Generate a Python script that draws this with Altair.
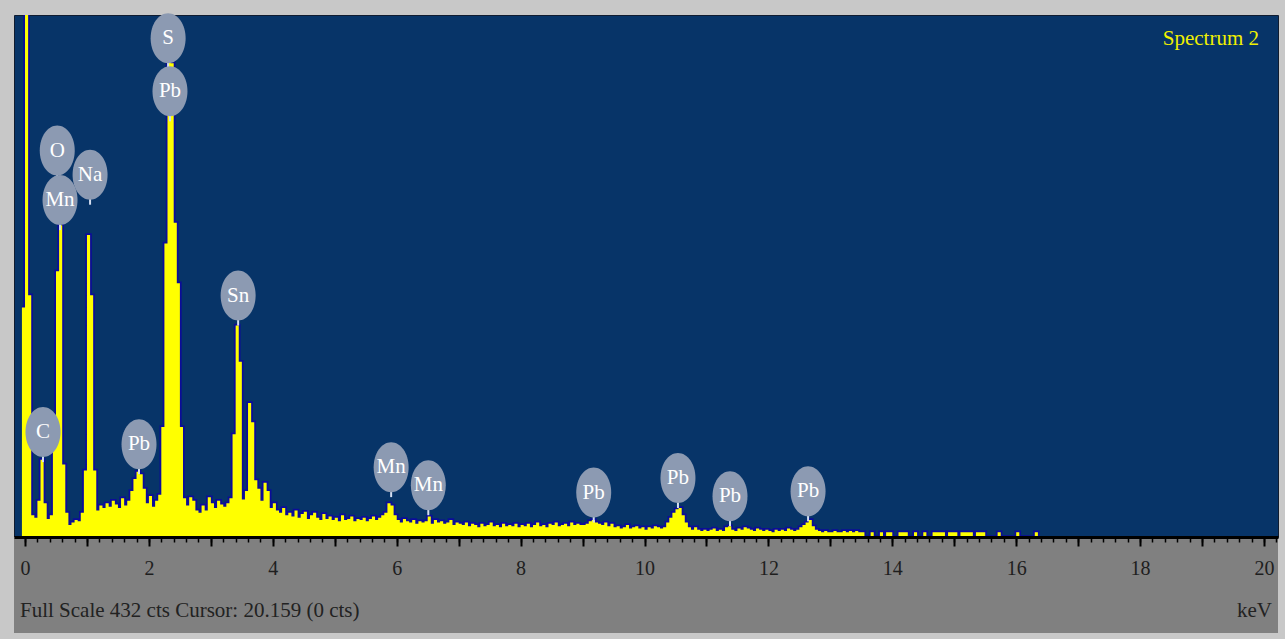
import altair as alt
import pandas as pd

# ---------------- spectrum (counts per 0.05 keV channel) ----------------
E_START = -0.05
E_STEP = 0.05
counts = [
    # -0.05 .. 0.95
    190, 440, 200, 18, 16, 30, 64, 28, 15, 18, 80, 220, 258, 60, 20, 10, 12, 14, 13, 20, 55,
    # 1.00 .. 1.95
    250, 200, 55, 22, 26, 24, 28, 25, 30, 27, 24, 32, 26, 30, 38, 48, 54, 52, 40, 28,
    # 2.00 .. 2.95
    34, 25, 30, 35, 91, 243, 395, 392, 260, 210, 91, 32, 26, 33, 30, 22, 20, 26, 22, 33,
    # 3.00 .. 3.95
    28, 24, 30, 27, 25, 28, 32, 85, 175, 145, 31, 38, 111, 95, 47, 40, 30, 45, 38, 24,
    # 4.00 .. 4.95
    28, 22, 20, 24, 18, 20, 17, 22, 16, 19, 21, 15, 18, 20, 16, 14, 19, 15, 17, 14,
    # 5.00 .. 5.95
    16, 13, 18, 14, 15, 17, 13, 15, 14, 16, 13, 15, 17, 14, 16, 18, 20, 28, 26, 18,
    # 6.00 .. 6.95
    14, 12, 15, 13, 12, 14, 11, 13, 12, 13, 17, 11, 14, 12, 13, 11, 12, 14, 10, 12,
    # 7.00 .. 7.95
    11, 10, 12, 9, 11, 10, 8, 11, 9, 10, 12, 9, 10, 8, 11, 9, 10, 9, 11, 8,
    # 8.00 .. 8.95
    10, 9, 11, 8, 10, 12, 9, 10, 8, 11, 10, 12, 9, 10, 11, 9, 12, 10, 11, 10,
    # 9.00 .. 9.95
    10, 11, 13, 14, 12, 11, 10, 12, 9, 11, 8, 9, 7, 8, 10, 7, 8, 9, 7, 8,
    # 10.00 .. 10.95
    6, 8, 7, 9, 8, 7, 8, 12, 16, 20, 23, 24, 18, 12, 8, 6, 8, 6, 5, 6,
    # 11.00 .. 11.95
    5, 6, 7, 5, 6, 5, 8, 9, 6, 5, 7, 6, 8, 7, 6, 5, 7, 6, 5, 6,
    # 12.00 .. 12.95
    5, 4, 6, 5, 6, 5, 7, 6, 5, 6, 8, 10, 12, 14, 9, 6, 5, 4, 5, 4,
    # 13.00 .. 13.95
    4, 5, 4, 4, 5, 4, 5, 4, 5, 4, 4, 0, 0, 4, 0, 0, 4, 0, 4, 4,
    # 14.00 .. 14.95
    0, 0, 4, 4, 4, 0, 0, 4, 0, 0, 4, 0, 0, 4, 4, 4, 4, 0, 4, 4,
    # 15.00 .. 15.95
    4, 0, 4, 4, 4, 4, 0, 4, 4, 4, 0, 0, 0, 0, 4, 0, 0, 0, 0, 0,
    # 16.00 .. 16.35
    4, 0, 0, 0, 0, 0, 4, 0,
]
energy = [round(E_START + i * E_STEP, 2) for i in range(len(counts))]
spec = pd.DataFrame({"keV": energy, "cts": counts})

# ---------------- peak labels ----------------
label_text = ["S", "Pb", "O", "Na", "Mn", "C", "Pb", "Sn", "Mn", "Mn", "Pb", "Pb", "Pb", "Pb"]
label_keV = [2.31, 2.34, 0.52, 1.05, 0.565, 0.29, 1.84, 3.44, 5.91, 6.51, 9.18, 10.54, 11.38, 12.64]
label_cts = [388, 344, 295, 275, 254, 62, 52, 175, 33, 18, 12, 24, 9, 13]
labels = pd.DataFrame({"keV": label_keV, "cts": label_cts, "el": label_text})

# ---------------- texts ----------------
spectrum_name = ["Spectrum 2"]
footer_left = ["Full Scale 432 cts Cursor: 20.159 (0 cts)"]
footer_right = ["keV"]
major_ticks = list(range(0, 21))
minor_ticks = [round(i * 0.2, 1) for i in range(0, 102)]

W, H = 1264, 522
FONT = "Liberation Serif"
xscale = alt.Scale(domain=[-0.178, 20.226], nice=False, zero=False)
yscale = alt.Scale(domain=[0, 432], nice=False, zero=True)

major_axis = alt.Axis(
    values=major_ticks, orient="bottom", zindex=2, title=None, grid=False,
    domain=True, domainColor="#000000", domainWidth=3,
    ticks=True, tickColor="#000000", tickWidth=2, tickSize=9,
    labelExpr="datum.value % 2 == 0 ? datum.label : ''",
    labelFont=FONT, labelFontSize=20, labelColor="#1e1e1e",
    labelPadding=12, labelOverlap=False, labelFlush=False,
)
minor_axis = alt.Axis(
    values=minor_ticks, orient="bottom", zindex=1, title=None, grid=False,
    domain=False, ticks=True, tickColor="#000000", tickWidth=1.5, tickSize=5,
    labels=False,
)

panel = alt.Chart(alt.Data(values=[{"a": 1}])).mark_rect(color="#808080").encode(
    x=alt.value(0), x2=alt.value(W), y=alt.value(H), y2=alt.value(H + 96)
)

edge = alt.Chart(spec).mark_line(
    interpolate="step-after", color="#0c0c9a", strokeWidth=3.5, clip=True
).encode(
    x=alt.X("keV:Q", scale=xscale, axis=major_axis),
    y=alt.Y("cts:Q", scale=yscale, axis=None),
)

fill = alt.Chart(spec).mark_area(
    interpolate="step-after", color="#ffff00", clip=True
).encode(
    x=alt.X("keV:Q", scale=xscale, axis=minor_axis),
    y=alt.Y("cts:Q", scale=yscale, axis=None),
)

stems = alt.Chart(labels).mark_rule(
    color="#d4def0", strokeWidth=2, yOffset=0, y2Offset=-8
).encode(
    x=alt.X("keV:Q", scale=xscale, axis=None),
    y=alt.Y("cts:Q", scale=yscale, axis=None),
    y2="cts:Q",
)

ELLIPSE = ("M0,-1 C0.3866,-1 0.7,-0.5523 0.7,0 C0.7,0.5523 0.3866,1 0,1 "
           "C-0.3866,1 -0.7,0.5523 -0.7,0 C-0.7,-0.5523 -0.3866,-1 0,-1 Z")
bubbles = alt.Chart(labels).mark_point(
    shape=ELLIPSE, size=2500, filled=True, opacity=1, color="#8c9ab2", yOffset=-30
).encode(
    x=alt.X("keV:Q", scale=xscale, axis=None),
    y=alt.Y("cts:Q", scale=yscale, axis=None),
)

bubble_text = alt.Chart(labels).mark_text(
    font=FONT, fontSize=21, color="#ffffff", baseline="middle", align="center", yOffset=-30
).encode(
    x=alt.X("keV:Q", scale=xscale, axis=None),
    y=alt.Y("cts:Q", scale=yscale, axis=None),
    text="el:N",
)

spec_title = alt.Chart(alt.Data(values=[{"t": spectrum_name[0]}])).mark_text(
    font=FONT, fontSize=21, color="#f0f000", align="right", baseline="alphabetic"
).encode(x=alt.value(W - 19), y=alt.value(30), text="t:N")

foot_l = alt.Chart(alt.Data(values=[{"t": footer_left[0]}])).mark_text(
    font=FONT, fontSize=21, color="#222222", align="left", baseline="alphabetic"
).encode(x=alt.value(6), y=alt.value(H + 80), text="t:N")

foot_r = alt.Chart(alt.Data(values=[{"t": footer_right[0]}])).mark_text(
    font=FONT, fontSize=21, color="#222222", align="right", baseline="alphabetic"
).encode(x=alt.value(W - 6), y=alt.value(H + 80), text="t:N")

chart = alt.layer(
    panel, edge, fill, stems, bubbles, bubble_text, spec_title, foot_l, foot_r
).resolve_axis(x="independent").properties(
    width=W, height=H, background="#c8c8c8",
    padding={"left": 14, "top": 15, "right": 7, "bottom": 102},
    autosize=alt.AutoSizeParams(type="none"),
).configure_view(fill="#073468", stroke="#101c30", strokeWidth=1)

chart.save("out.html", embed_options={"renderer": "svg", "actions": False})
